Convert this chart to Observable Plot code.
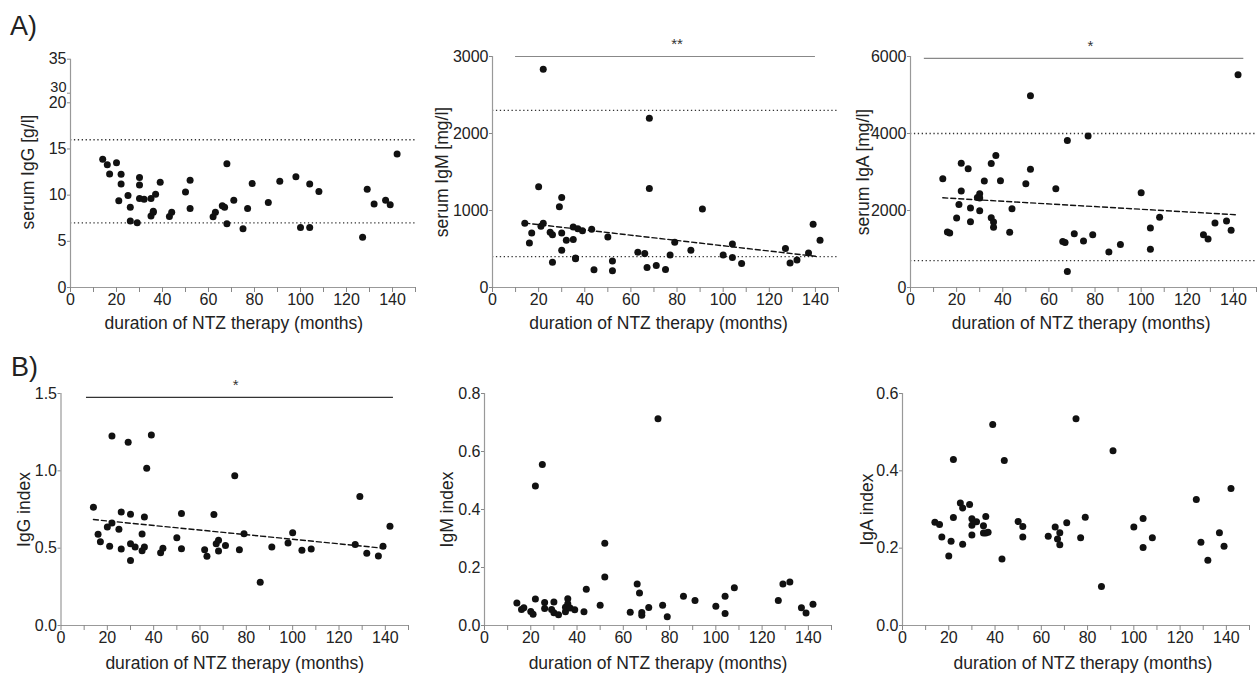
<!DOCTYPE html>
<html><head><meta charset="utf-8">
<script src="https://cdn.jsdelivr.net/npm/d3@7"></script>
<script src="https://cdn.jsdelivr.net/npm/@observablehq/plot@0.6"></script>
<style>
body{margin:0;background:#fff;font-family:"Liberation Sans",Arial,sans-serif;}
#root{position:relative;width:1257px;height:675px;overflow:hidden;background:#fff;}
.panel{position:absolute;}
.tag{position:absolute;font-size:27px;color:#222;line-height:1;}
</style></head><body>
<div id="root">
<div class="tag" style="left:10px;top:13px">A)</div>
<div class="tag" style="left:11px;top:354px">B)</div>
</div>
<script>
// ---------- data ----------
const monthsSerumIgG = [14,16,17,20,21,22,22,25,26,26,29,30,30,30,32,35,35,36,36,37,39,43,44,50,52,52,62,63,66,67,68,68,71,75,77,79,86,91,98,100,104,104,108,127,129,132,137,139,142];
const serumIgG = [13.9,13.3,12.3,13.5,9.4,12.25,11.2,9.95,8.7,7.2,7.0,11.9,11.1,9.65,9.55,9.65,7.75,8.15,8.25,10.1,11.4,7.7,8.15,10.35,11.6,8.55,7.65,8.15,8.85,8.7,13.4,6.9,9.45,6.35,8.55,11.25,9.2,11.5,12.0,6.5,11.2,6.5,10.4,5.45,10.65,9.05,9.45,8.95,14.45];

const monthsSerumIgM = [14,16,17,20,21,22,22,25,26,26,29,30,30,30,32,35,35,36,36,37,39,43,44,50,52,52,63,66,67,68,68,71,75,77,79,86,91,100,104,104,108,127,129,132,137,139,142];
const serumIgM = [833,578,708,1308,794,2836,833,716,686,328,1049,1170,708,483,613,622,786,384,372,764,738,755,229,656,345,216,457,440,259,2197,1286,285,233,423,587,483,1019,423,565,388,311,505,319,358,449,820,613];

const monthsSerumIgA = [14,16,17,20,21,22,22,25,26,26,29,30,30,30,32,35,35,36,36,37,39,43,44,50,52,52,63,66,67,68,68,71,75,77,79,86,91,100,104,104,108,127,129,132,137,139,142];
const serumIgA = [2824,1442,1416,1805,2159,3230,2504,3083,2064,1710,2340,2435,2323,1995,2763,3221,1813,1701,1563,3428,2772,1433,2047,2694,4983,3074,2565,1192,1166,3817,415,1399,1209,3938,1373,924,1114,2461,1546,993,1822,1373,1261,1675,1727,1485,5527];

const monthsIgGIndex = [14,16,17,20,21,22,22,25,26,26,29,30,30,30,32,35,35,36,36,37,39,43,44,50,52,52,62,63,66,67,68,68,71,75,77,79,86,91,98,100,104,108,127,129,132,137,139,142];
const igGIndex = [0.765,0.590,0.542,0.637,0.512,1.225,0.663,0.622,0.734,0.495,1.184,0.719,0.529,0.421,0.508,0.592,0.484,0.702,0.508,1.017,1.231,0.471,0.499,0.568,0.724,0.497,0.490,0.447,0.717,0.529,0.551,0.482,0.518,0.968,0.490,0.594,0.279,0.508,0.533,0.600,0.486,0.495,0.523,0.834,0.467,0.449,0.512,0.641];

const monthsIgMIndex = [14,16,17,20,21,22,22,25,26,26,29,30,30,32,35,35,36,36,37,39,43,44,50,52,52,63,66,67,68,68,71,75,77,79,86,91,100,104,104,108,127,129,132,137,139,142];
const igMIndex = [0.078,0.055,0.061,0.048,0.039,0.481,0.091,0.555,0.079,0.059,0.055,0.081,0.044,0.037,0.047,0.063,0.092,0.075,0.060,0.054,0.047,0.125,0.070,0.284,0.167,0.046,0.143,0.112,0.045,0.035,0.062,0.713,0.070,0.030,0.101,0.086,0.066,0.101,0.041,0.130,0.086,0.143,0.150,0.061,0.043,0.073];

const monthsIgAIndex = [14,16,17,20,21,22,22,25,26,26,29,30,30,30,32,35,35,36,36,37,39,43,44,50,52,52,63,66,67,68,68,71,75,77,79,86,91,100,104,104,108,127,129,132,137,139,142];
const igAIndex = [0.267,0.261,0.229,0.180,0.218,0.429,0.279,0.317,0.210,0.304,0.313,0.276,0.259,0.234,0.268,0.258,0.239,0.282,0.239,0.241,0.520,0.172,0.427,0.269,0.256,0.229,0.231,0.255,0.224,0.240,0.209,0.266,0.535,0.227,0.280,0.101,0.452,0.255,0.277,0.202,0.227,0.326,0.215,0.169,0.240,0.205,0.354];

// reference ranges (dotted lines)
const refSerumIgG = [7, 16];
const refSerumIgM = [400, 2300];
const refSerumIgA = [700, 4000];

// regression lines (endpoints)
const regrIgMMonths = [14, 140];
const regrIgMValues = [837, 405];
const regrIgAMonths = [14, 141];
const regrIgAValues = [2330, 1890];
const regrIgGIndexMonths = [14, 141];
const regrIgGIndexValues = [0.685, 0.497];

// significance bars
const sigIgM = [{x1: 10, x2: 140, y: 3000, star: "**", starX: 80}];
const sigIgA = [{x1: 6, x2: 144.5, y: 5950, star: "*", starX: 78}];
const sigIgGIndex = [{x1: 11, x2: 143.5, y: 1.475, star: "*", starX: 75.4}];

// tick values
const xTicks = [0,10,20,30,40,50,60,70,80,90,100,110,120,130,140,150];
const ticksSerumIgG = [0,5,10,15,20,30,35];
const ticksSerumIgGBreak = [30];   // label drawn just above the axis break
const ticksSerumIgM = [0,1000,2000,3000];
const ticksSerumIgA = [0,2000,4000,6000];
const ticksIgGIndex = [0,0.5,1.0,1.5];
const ticksIgMIndex = [0,0.2,0.4,0.6,0.8];
const ticksIgAIndex = [0,0.2,0.4,0.6];
const xLabel = "duration of NTZ therapy (months)";

// ---------- drawing ----------
const FONT = "'Liberation Sans', Arial, sans-serif";
function panel(cfg) {
  const data = cfg.xs.map((x, i) => ({x, y: cfg.ys[i]}));
  const marks = [];
  if (cfg.refs) marks.push(Plot.ruleY(cfg.refs, {x1: 0, x2: 150, stroke: "#333", strokeWidth: 1.3, strokeDasharray: "1.3,2.6"}));
  if (cfg.sig) {
    marks.push(Plot.ruleY(cfg.sig, {y: "y", x1: "x1", x2: "x2", stroke: cfg.sigColor, strokeWidth: 1.2}));
    marks.push(Plot.text(cfg.sig, {x: "starX", y: "y", text: "star", dy: -12, fontSize: 15, fill: "#333"}));
  }
  marks.push(Plot.ruleY([0], {x1: 0, x2: 150, stroke: "#999", strokeWidth: 1.2}));
  marks.push(Plot.ruleX([0], {y1: 0, y2: cfg.yTop, stroke: "#999", strokeWidth: 1.2}));
  marks.push(Plot.axisX({ticks: xTicks, tickSize: 5, tickPadding: 1, stroke: "#888", fill: "#222",
    tickFormat: d => d % 20 === 0 ? String(d) : "", label: null}));
  const brk = cfg.breakTicks || [];
  marks.push(Plot.axisY({ticks: cfg.yTicks, tickSize: 3, tickPadding: 1, stroke: "#888", fill: "#222",
    tickFormat: d => brk.includes(d) ? "" : cfg.yFmt(d), label: null}));
  if (brk.length) {
    marks.push(Plot.text(brk, {y: d => d, text: d => cfg.yFmt(d), frameAnchor: "left", textAnchor: "end",
      dx: -4, dy: -6, fontSize: 14.5, fill: "#222"}));
  }
  if (cfg.regrX) {
    const rd = cfg.regrX.map((x, i) => ({x, y: cfg.regrY[i]}));
    marks.push(Plot.line(rd, {x: "x", y: "y", stroke: "#111", strokeWidth: 1.4, strokeDasharray: "5,3"}));
  }
  marks.push(Plot.dot(data, {x: "x", y: "y", r: 3.5, fill: "#111", stroke: "none"}));
  marks.push(Plot.text([cfg.ylabel], {text: d => d, frameAnchor: "left", rotate: -90, textAnchor: "middle", lineAnchor: "middle",
    dx: cfg.ylabelX - cfg.margin[3], fontSize: 17.5, fill: "#222"}));
  marks.push(Plot.text([xLabel], {text: d => d, x: cfg.xlabelX, frameAnchor: "bottom", lineAnchor: "middle", textAnchor: "middle",
    dy: cfg.xlabelDy, fontSize: 17.5, fill: "#222"}));
  const yOpt = {type: "linear", domain: cfg.yDomain};
  if (cfg.yRange) yOpt.range = cfg.yRange;
  const chart = Plot.plot({
    width: cfg.width, height: cfg.height,
    marginTop: cfg.margin[0], marginRight: cfg.margin[1], marginBottom: cfg.margin[2], marginLeft: cfg.margin[3],
    style: {fontFamily: FONT, fontSize: "16px", color: "#222", background: "transparent", overflow: "visible"},
    x: {type: "linear", domain: [0, 150]},
    y: yOpt,
    marks
  });
  const wrap = document.createElement("div");
  wrap.className = "panel";
  wrap.style.left = cfg.left + "px";
  wrap.style.top = cfg.top + "px";
  wrap.appendChild(chart);
  document.getElementById("root").appendChild(wrap);
}

const fmt1 = d3.format(".1f");
const fmtInt = d3.format("d");

// top row: svg top 30, height 305 -> y=0 at page 287, top at page 56
panel({left: 0, top: 30, width: 420, height: 305, margin: [26, 5, 48, 70],
  yDomain: [0, 20, 30, 35], yRange: [257, 72.3, 62.7, 28.7], yTicks: ticksSerumIgG, breakTicks: ticksSerumIgGBreak, yFmt: fmtInt, yTop: 35,
  xs: monthsSerumIgG, ys: serumIgG, refs: refSerumIgG,
  ylabel: "serum IgG [g/l]", ylabelX: 28, xlabelX: 71, xlabelDy: 36});
panel({left: 420, top: 30, width: 420, height: 305, margin: [26, 2, 48, 72],
  yDomain: [0, 3000], yTicks: ticksSerumIgM, yFmt: fmtInt, yTop: 3000,
  xs: monthsSerumIgM, ys: serumIgM, refs: refSerumIgM, sig: sigIgM, sigColor: "#888",
  regrX: regrIgMMonths, regrY: regrIgMValues,
  ylabel: "serum IgM [mg/l]", ylabelX: 22, xlabelX: 72, xlabelDy: 36});
panel({left: 840, top: 30, width: 417, height: 305, margin: [26, 1, 48, 70],
  yDomain: [0, 6000], yTicks: ticksSerumIgA, yFmt: fmtInt, yTop: 6000,
  xs: monthsSerumIgA, ys: serumIgA, refs: refSerumIgA, sig: sigIgA, sigColor: "#888",
  regrX: regrIgAMonths, regrY: regrIgAValues,
  ylabel: "serum IgA [mg/l]", ylabelX: 23, xlabelX: 74, xlabelDy: 36});

// bottom row: svg top 345, height 330 -> y=0 at page 625, top at page 393
panel({left: 0, top: 345, width: 415, height: 330, margin: [48, 7, 50, 60.5],
  yDomain: [0, 1.5], yTicks: ticksIgGIndex, yFmt: fmt1, yTop: 1.5,
  xs: monthsIgGIndex, ys: igGIndex, sig: sigIgGIndex, sigColor: "#333",
  regrX: regrIgGIndexMonths, regrY: regrIgGIndexValues,
  ylabel: "IgG index", ylabelX: 24, xlabelX: 75, xlabelDy: 38});
panel({left: 420, top: 345, width: 420, height: 330, margin: [48, 9, 50, 64],
  yDomain: [0, 0.8], yTicks: ticksIgMIndex, yFmt: fmt1, yTop: 0.8,
  xs: monthsIgMIndex, ys: igMIndex,
  ylabel: "IgM index", ylabelX: 27, xlabelX: 75, xlabelDy: 38});
panel({left: 840, top: 345, width: 417, height: 330, margin: [48, 8, 50, 62],
  yDomain: [0, 0.6], yTicks: ticksIgAIndex, yFmt: fmt1, yTop: 0.6,
  xs: monthsIgAIndex, ys: igAIndex,
  ylabel: "IgA index", ylabelX: 27, xlabelX: 78, xlabelDy: 38});
</script>
</body></html>
